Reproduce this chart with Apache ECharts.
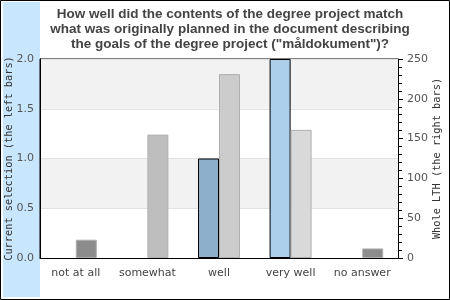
<!DOCTYPE html>
<html><head><meta charset="utf-8">
<script src="https://cdn.jsdelivr.net/npm/echarts@6/dist/echarts.min.js"></script>
<style>html,body{margin:0;padding:0;background:#fff}#c{width:450px;height:300px}</style>
</head><body><div id="c"></div>
<script>
const categories = ['not at all', 'somewhat', 'well', 'very well', 'no answer'];
const currentSelection = [0, 0, 1, 2, 0];
const wholeLTH = [23, 155, 231, 161, 12];
const leftTicks = [0, 0.5, 1.0, 1.5, 2.0];
const rightTicks = [0, 50, 100, 150, 200, 250];

const leftColors = ['#8eafcb', '#8eafcb', '#8eafcb', '#acd0ec', '#8eafcb'];
const rightColors = ['#8c8c8c', '#bebebe', '#cccccc', '#d9d9d9', '#8c8c8c'];

const chart = echarts.init(document.getElementById('c'), null, {renderer: 'canvas'});
const labelFont = {fontFamily: 'DejaVu Sans', fontSize: 11, color: '#555'};
const nameFont = {fontFamily: 'DejaVu Sans Mono', fontSize: 10.3, color: '#333'};
chart.setOption({
  animation: false,
  backgroundColor: '#fff',
  graphic: [
    {type: 'rect', shape: {x: 3, y: 2, width: 37, height: 295}, style: {fill: '#c8e6fd'}, z: -10, silent: true},
    {type: 'rect', shape: {x: 0.5, y: 0.5, width: 449, height: 299}, style: {fill: null, stroke: '#000', lineWidth: 1}, z: 100, silent: true}
  ],
  title: {
    text: 'How well did the contents of the degree project match\nwhat was originally planned in the document describing\nthe goals of the degree project ("måldokument")?',
    left: 225, textAlign: 'center', top: 2,
    textStyle: {fontFamily: 'Liberation Sans', fontWeight: 'bold', fontSize: 13.5, color: '#444', lineHeight: 15}
  },
  grid: {left: 40, right: 52, top: 59, bottom: 42, show: true, borderColor: '#000', borderWidth: 1, backgroundColor: 'transparent', outerBoundsMode: 'none', containLabel: false},
  xAxis: {
    type: 'category', data: categories,
    axisLine: {lineStyle: {color: '#000', width: 1}},
    axisTick: {show: false},
    axisLabel: {margin: 10, color: '#444', interval: 0, fontFamily: 'DejaVu Sans', fontSize: 11}
  },
  yAxis: [
    {
      type: 'value', min: leftTicks[0], max: leftTicks[leftTicks.length - 1], interval: 0.5,
      name: 'Current selection (the left bars)', nameLocation: 'middle', nameGap: 26, nameRotate: 90, nameMoveOverlap: false, nameTextStyle: nameFont,
      axisLine: {show: true, lineStyle: {color: '#000'}},
      axisTick: {show: false},
      axisLabel: Object.assign({margin: 6, formatter: v => v.toFixed(1)}, labelFont),
      splitLine: {show: true, lineStyle: {color: '#e2e2e2'}},
      splitArea: {show: true, areaStyle: {color: ['#ffffff', '#f2f2f2']}}
    },
    {
      type: 'value', min: rightTicks[0], max: rightTicks[rightTicks.length - 1], interval: 50,
      name: 'Whole LTH (the right bars)', nameLocation: 'middle', nameGap: 34, nameRotate: 90, nameMoveOverlap: false, nameTextStyle: nameFont,
      axisLine: {show: true, lineStyle: {color: '#000'}},
      axisTick: {show: true, length: 5, lineStyle: {color: '#000'}},
      minorTick: {show: true, splitNumber: 5, length: 4, lineStyle: {color: '#000'}},
      axisLabel: Object.assign({margin: 9}, labelFont),
      splitLine: {show: false}
    }
  ],
  series: [
    {
      type: 'bar', yAxisIndex: 0, barWidth: 21, barGap: '0%',
      data: currentSelection.map((v, i) => ({value: v, itemStyle: {color: leftColors[i], borderWidth: v === 0 ? 0 : 1}})),
      itemStyle: {borderColor: '#000', borderWidth: 1}
    },
    {
      type: 'bar', yAxisIndex: 1, barWidth: 21, barGap: '0%',
      data: wholeLTH.map((v, i) => ({value: v, itemStyle: {color: rightColors[i]}})),
      itemStyle: {borderColor: '#b0b0b0', borderWidth: 1}
    }
  ]
});
</script></body></html>
